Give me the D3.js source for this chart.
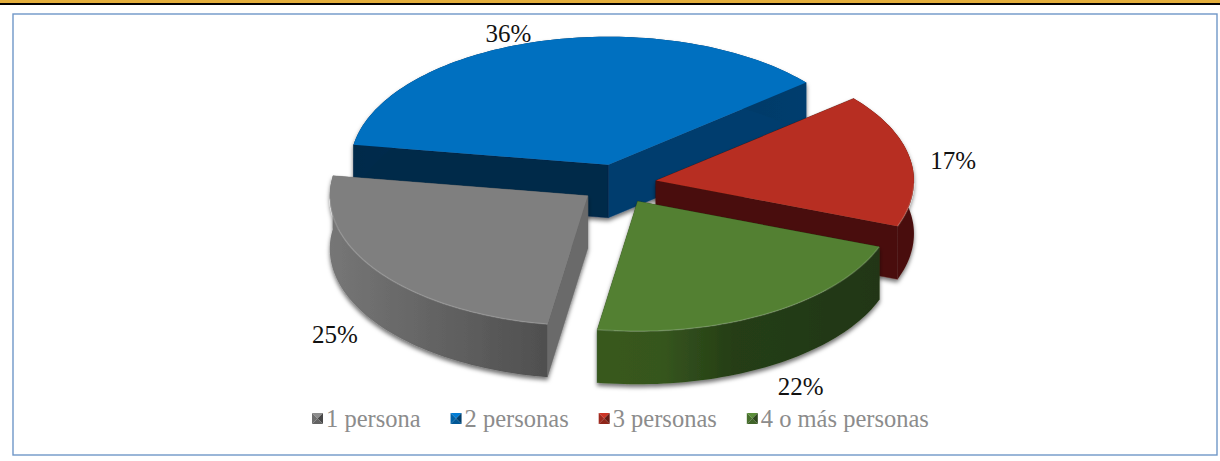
<!DOCTYPE html>
<html><head><meta charset="utf-8">
<script src="https://cdn.jsdelivr.net/npm/d3@7"></script>
<style>html,body{margin:0;background:#fff}svg{display:block}text{font-family:"Liberation Serif",serif}</style>
</head><body><svg id="c" width="1220" height="461"></svg>
<script>
const categories = ["1 persona","2 personas","3 personas","4 o más personas"];
const shares = [25,36.4,16.8,21.8];
const labels = ["25%","36%","17%","22%"];

const topColors  = ["#7f7f7f","#0070c0","#b72f21","#528033"];
const wallStops  = [
  [[0,"#767676"],[1,"#4f4f4f"]],
  [[0,"#00294a"],[1,"#003d6e"]],
  [[0,"#4a110c"],[1,"#4a110c"]],
  [[0,"#38591f"],[.22,"#36561f"],[.48,"#253e15"],[1,"#213612"]]
];
const faceColors = ["#6a6a6a","#00294a","#4a110c","#2a4517"];
const endFaceColors = ["#6a6a6a","#003d6e","#4a110c","#2a4517"];
const paintOrder = [1,2,0,3];
const labelOffsets = [[-44,63],[-31,-7],[43,2],[33,73]];

const W=1220,H=461, cx=618.5, cy=184, rx=258, ryBack=128, ryFront=130, depth=53, explodeX=38, explodeY=20;
const svg=d3.select("#c");
const defs=svg.append("defs");
const f=defs.append("filter").attr("id","sh").attr("x","-10%").attr("y","-10%").attr("width","120%").attr("height","125%");
f.append("feDropShadow").attr("dx",0).attr("dy",3).attr("stdDeviation",2.2).attr("flood-color","#000").attr("flood-opacity",.55);

// page chrome
svg.append("rect").attr("width",W).attr("height",3).attr("fill","#e3ae3c");
svg.append("rect").attr("y",3).attr("width",W).attr("height",2).attr("fill","#000");
svg.append("rect").attr("x",13).attr("y",14).attr("width",1204).attr("height",441).attr("fill","#fff").attr("stroke","#6f97c8").attr("stroke-width",1.4);

const rad=d=>d*Math.PI/180;
const pie=d3.pie().sort(null).startAngle(rad(-171)).endAngle(rad(189));
const arcs=pie(shares);
const sx=d3.scaleLinear([-1,1],[-rx,rx]), sy=d3.scaleLinear([-1,0,1],[-ryBack,0,ryFront]);
const px=a=>sx(Math.sin(a)), py=a=>sy(-Math.cos(a));
const line=d3.line();
const samples=(a0,a1)=>{const n=Math.max(2,Math.ceil((a1-a0)/rad(1.5)));return d3.range(n+1).map(i=>a0+(a1-a0)*i/n);};

const root=svg.append("g");
paintOrder.forEach(i=>{
  const d=arcs[i], mid=(d.startAngle+d.endAngle)/2;
  const ox=cx+explodeX*Math.sin(mid), oy=cy-explodeY*Math.cos(mid);
  const g=root.append("g").attr("transform",`translate(${ox},${oy})`).attr("filter","url(#sh)");
  const angs=samples(d.startAngle,d.endAngle);
  const rim=angs.map(a=>[px(a),py(a)]);
  const grad=defs.append("linearGradient").attr("id","w"+i).attr("gradientUnits","userSpaceOnUse")
    .attr("x1",d3.min(rim,p=>p[0])).attr("x2",d3.max(rim,p=>p[0])).attr("y1",0).attr("y2",0);
  wallStops[i].forEach(s=>grad.append("stop").attr("offset",s[0]).attr("stop-color",s[1]));
  // radial faces
  const face=(a,col)=>g.append("path").attr("fill",col).attr("stroke",col).attr("stroke-width",.4).attr("d",line([[0,0],[px(a),py(a)],[px(a),py(a)+depth],[0,depth]])+"Z");
  face(d.endAngle,endFaceColors[i]);
  face(d.startAngle,faceColors[i]);
  // outer wall
  g.append("path").attr("fill",`url(#w${i})`)
    .attr("d",line(rim.concat(rim.slice().reverse().map(p=>[p[0],p[1]+depth])))+"Z");
  // top
  g.append("path").attr("fill",topColors[i]).attr("d",line([[0,0],...rim])+"Z");
  // bevel highlight on the front edge
  const front=rim.filter((p,k)=>Math.cos(angs[k])<0);
  if(front.length>1) g.append("path").attr("fill","none").attr("stroke","#fff").attr("stroke-opacity",.16).attr("stroke-width",1.5).attr("d",line(front));
  // data label
  const o=labelOffsets[i];
  svg.append("text").attr("class","lab")
    .attr("x",ox+px(mid)+o[0]).attr("y",oy+py(mid)+o[1]+8).attr("text-anchor","middle")
    .attr("font-size",25).attr("fill","#111").text(labels[i]);
});
svg.selectAll("text.lab").raise();

// legend
const lg=svg.append("g");
let x=312; const ly=413, sw=11;
categories.forEach((c,i)=>{
  const col=d3.color(topColors[i]);
  const t=[[0,0],[sw,0],[sw/2,sw/2]], l=[[0,0],[0,sw],[sw/2,sw/2]], r=[[sw,0],[sw,sw],[sw/2,sw/2]], b=[[0,sw],[sw,sw],[sw/2,sw/2]];
  const g=lg.append("g").attr("transform",`translate(${x},${ly})`);
  [[t,col.brighter(.3)],[l,col.darker(.4)],[r,col.darker(1.6)],[b,col.darker(.7)]].forEach(([p,cc])=>
    g.append("path").attr("d",line(p)+"Z").attr("fill",cc+""));
  const tx=lg.append("text").attr("x",x+14).attr("y",ly+14).attr("font-size",24.5).attr("fill","#8c8c8c").text(c);
  x+=14+tx.node().getComputedTextLength()+30;
});
</script></body></html>
